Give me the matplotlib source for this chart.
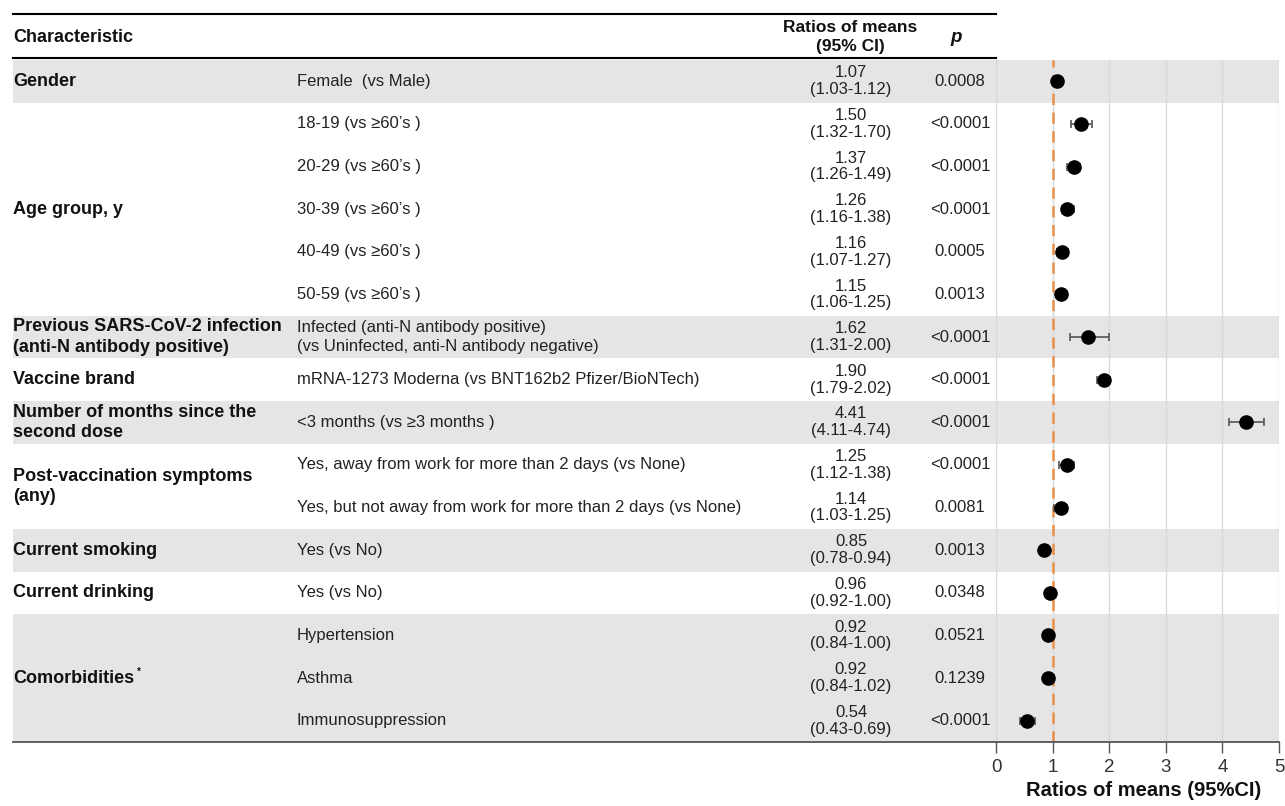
import numpy as np
import matplotlib
matplotlib.use("Agg")
import matplotlib.pyplot as plt
from matplotlib import transforms
from matplotlib.patches import Rectangle
from matplotlib.lines import Line2D

plt.rcParams['font.family'] = ['Liberation Sans', 'DejaVu Sans']

# Table rows: one entry per comparison, top to bottom
subgroups = [
    "Female  (vs Male)",
    "18-19 (vs \u226560\u2019s )",
    "20-29 (vs \u226560\u2019s )",
    "30-39 (vs \u226560\u2019s )",
    "40-49 (vs \u226560\u2019s )",
    "50-59 (vs \u226560\u2019s )",
    "Infected (anti-N antibody positive)\n(vs Uninfected, anti-N antibody negative)",
    "mRNA-1273 Moderna (vs BNT162b2 Pfizer/BioNTech)",
    "<3 months (vs \u22653 months )",
    "Yes, away from work for more than 2 days (vs None)",
    "Yes, but not away from work for more than 2 days (vs None)",
    "Yes (vs No)",
    "Yes (vs No)",
    "Hypertension",
    "Asthma",
    "Immunosuppression",
]
ratio = [1.07, 1.50, 1.37, 1.26, 1.16, 1.15, 1.62, 1.90, 4.41, 1.25, 1.14, 0.85, 0.96, 0.92, 0.92, 0.54]
ci_low = [1.03, 1.32, 1.26, 1.16, 1.07, 1.06, 1.31, 1.79, 4.11, 1.12, 1.03, 0.78, 0.92, 0.84, 0.84, 0.43]
ci_high = [1.12, 1.70, 1.49, 1.38, 1.27, 1.25, 2.00, 2.02, 4.74, 1.38, 1.25, 0.94, 1.00, 1.00, 1.02, 0.69]
p_values = ["0.0008", "<0.0001", "<0.0001", "<0.0001", "0.0005", "0.0013", "<0.0001", "<0.0001",
            "<0.0001", "<0.0001", "0.0081", "0.0013", "0.0348", "0.0521", "0.1239", "<0.0001"]

# Characteristic groups: (label, first row, last row, shaded)
groups = [
    ("Gender", 0, 0, True),
    ("Age group, y", 1, 5, False),
    ("Previous SARS-CoV-2 infection\n(anti-N antibody positive)", 6, 6, True),
    ("Vaccine brand", 7, 7, False),
    ("Number of months since the\nsecond dose", 8, 8, True),
    ("Post-vaccination symptoms\n(any)", 9, 10, False),
    ("Current smoking", 11, 11, True),
    ("Current drinking", 12, 12, False),
    ("Comorbidities", 13, 15, True),
]
x_ticks = [0, 1, 2, 3, 4, 5]

W, H = 1285, 806
fig = plt.figure(figsize=(W / 100, H / 100), dpi=100)


def fx(px):
    return px / W


def fy(py):
    return 1 - py / H


ax = fig.add_axes([fx(996), fy(742), fx(1279 - 996), (742 - 60) / H])
ax.patch.set_visible(False)
n = len(ratio)
rows = np.arange(n)
ax.set_xlim(0, 5)
ax.set_ylim(n - 0.5, -0.5)

# x in figure fraction, y in row units
trans = transforms.blended_transform_factory(fig.transFigure, ax.transData)

shade = '#e6e4e4'
dark = '#111111'
for label, r0, r1, shaded in groups:
    if shaded:
        ax.add_patch(Rectangle((fx(13), r0 - 0.5), fx(1279 - 13), r1 - r0 + 1,
                               transform=trans, facecolor=shade, edgecolor='none',
                               zorder=0, clip_on=False))
    ax.text(fx(13), (r0 + r1) / 2, label, transform=trans, ha='left', va='center',
            fontsize=13, fontweight='bold', color=dark, linespacing=1.25)

# small footnote mark after "Comorbidities"
ax.text(fx(137), 13.85, "*", transform=trans, ha='left', va='center',
        fontsize=7, fontweight='bold', color=dark)

text_color = '#222222'
for i in rows:
    ax.text(fx(297), i, subgroups[i], transform=trans, ha='left', va='center',
            fontsize=12, color=text_color, linespacing=1.3)
    ax.text(fx(851), i, f"{ratio[i]:.2f}\n({ci_low[i]:.2f}-{ci_high[i]:.2f})",
            transform=trans, ha='center', va='center', fontsize=12,
            color=text_color, linespacing=1.15)
    ax.text(fx(960), i, p_values[i], transform=trans, ha='center', va='center',
            fontsize=12, color=text_color)

# Header
fig.text(fx(13), fy(37), "Characteristic", ha='left', va='center',
         fontsize=13, fontweight='bold', color=dark)
fig.text(fx(850), fy(37), "Ratios of means\n(95% CI)", ha='center', va='center',
         fontsize=12.5, fontweight='bold', color=dark, linespacing=1.4)
fig.text(fx(956), fy(38), "p", ha='center', va='center', fontsize=13.5,
         fontweight='bold', fontstyle='italic', color=dark)

# Table rules
for y in (14, 58):
    fig.add_artist(Line2D([fx(13), fx(996)], [fy(y), fy(y)], color='black', lw=1.5))
fig.add_artist(Line2D([fx(13), fx(996)], [fy(742), fy(742)], color='#555555', lw=1.3))

# Forest plot
ax.xaxis.grid(True, color='#d9d9d9', lw=1)
ax.set_axisbelow(True)
ax.axvline(1, color='#e8904a', lw=1.8, ls=(0, (4.5, 3)), zorder=2)
ratio_a = np.array(ratio)
xerr = [ratio_a - np.array(ci_low), np.array(ci_high) - ratio_a]
ax.errorbar(ratio_a, rows, xerr=xerr, fmt='o', color='black', ms=9.5,
            ecolor='#555555', elinewidth=1.2, capsize=3, capthick=1.2, zorder=3)

for side in ('top', 'left', 'right'):
    ax.spines[side].set_visible(False)
ax.spines['bottom'].set_color('#555555')
ax.spines['bottom'].set_linewidth(1.3)
ax.set_yticks([])
ax.set_xticks(x_ticks)
ax.tick_params(axis='x', direction='out', length=8, width=1, color='#555555',
               labelsize=13.5, labelcolor='#333333', pad=4)

fig.text(fx(1144), fy(790), "Ratios of means (95%CI)", ha='center', va='center',
         fontsize=14.5, fontweight='bold', color=dark)

fig.savefig("out.png", dpi=100)
